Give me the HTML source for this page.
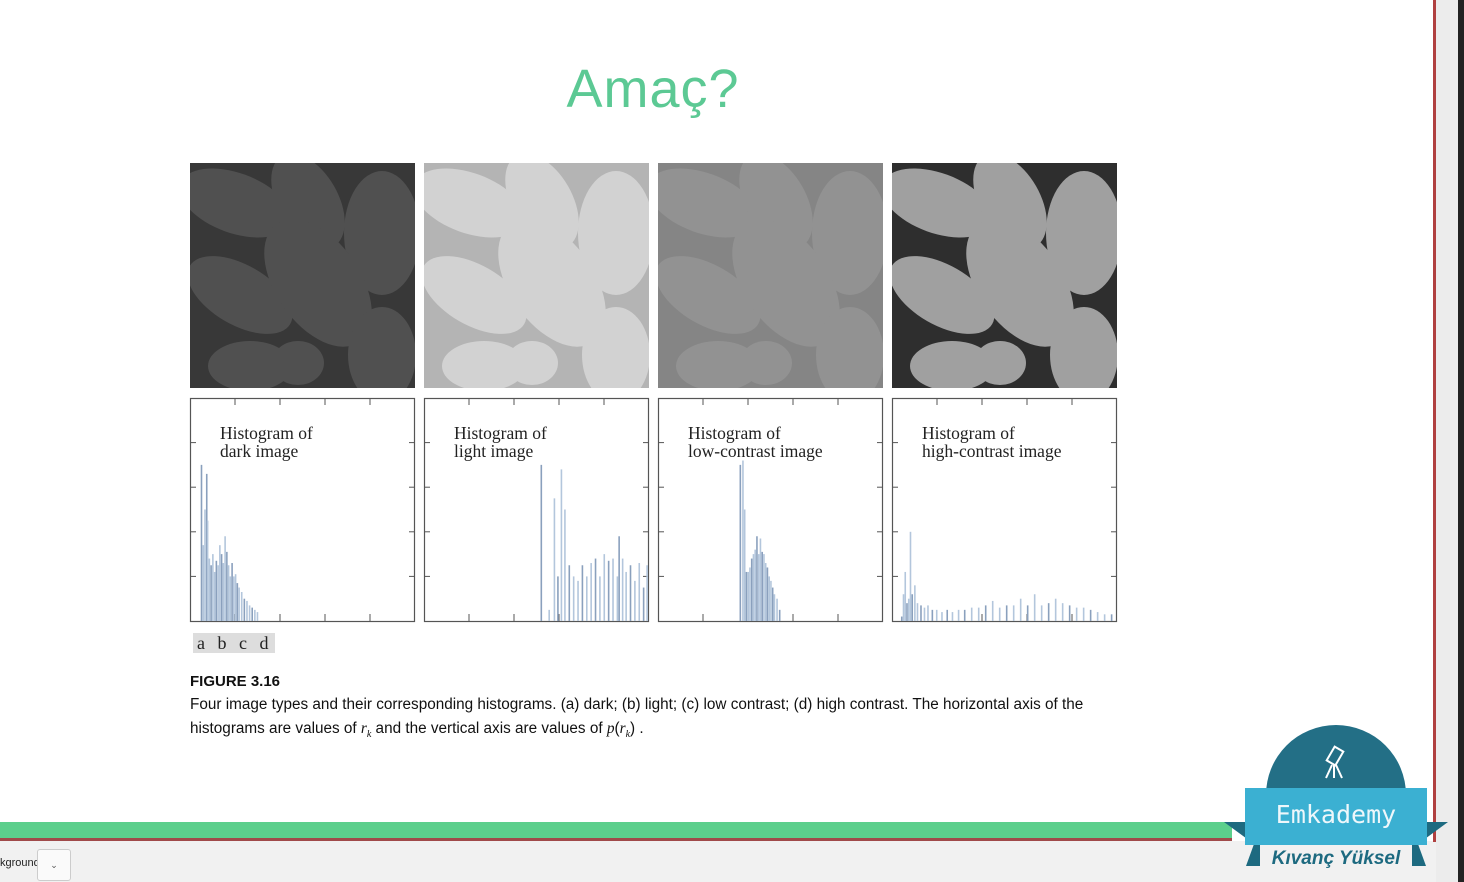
<!DOCTYPE html>
<html><head><meta charset="utf-8"><style>
html,body{margin:0;padding:0}
body{width:1464px;height:882px;position:relative;overflow:hidden;background:#fff;font-family:"Liberation Sans",sans-serif}
.abs{position:absolute}
</style></head><body>
<div class="abs" style="left:0;width:1306px;top:58px;text-align:center;font-size:54px;color:#5cc994;font-family:'Liberation Sans',sans-serif;letter-spacing:1px">Amaç?</div>

<svg class="abs" style="left:0;top:0" width="1464" height="882">
<defs>
<clipPath id="imgclip"><rect x="0" y="0" width="225" height="225"/></clipPath>
<g id="leaves">
<ellipse cx="45" cy="40" rx="58" ry="30" transform="rotate(20 45 40)"/>
<ellipse cx="118" cy="38" rx="30" ry="52" transform="rotate(-30 118 38)"/>
<ellipse cx="192" cy="70" rx="38" ry="62"/>
<ellipse cx="50" cy="132" rx="58" ry="30" transform="rotate(30 50 132)"/>
<ellipse cx="128" cy="120" rx="42" ry="72" transform="rotate(-35 128 120)"/>
<ellipse cx="60" cy="203" rx="42" ry="25"/>
<ellipse cx="108" cy="200" rx="26" ry="22"/>
<ellipse cx="192" cy="192" rx="34" ry="48"/>
</g>
</defs>
<g id="images"></g>
<g id="hists"></g>
</svg>

<div class="abs" style="left:193px;top:633px;width:82px;height:20px;background:#ddd;font-family:'Liberation Serif',serif;font-size:18px;line-height:21px;color:#222;padding-left:4px;letter-spacing:4px;box-sizing:border-box">a b c d</div>
<div class="abs" style="left:190px;top:673px;font-size:15px;font-weight:bold;color:#111">FIGURE 3.16</div>
<div class="abs" style="left:190px;top:693px;width:960px;font-size:15.3px;line-height:24px;color:#111">Four image types and their corresponding histograms. (a) dark; (b) light; (c) low contrast; (d) high contrast. The horizontal axis of the histograms are values of <i style="font-family:'Liberation Serif',serif">r<sub style="font-size:10px">k</sub></i> and the vertical axis are values of <i style="font-family:'Liberation Serif',serif">p</i>(<i style="font-family:'Liberation Serif',serif">r<sub style="font-size:10px">k</sub></i>) .</div>

<div class="abs" style="left:0;top:822px;width:1232px;height:16px;background:#5ccf8c;border-bottom:3px solid #a04a4a"></div>
<div class="abs" style="left:0;top:841px;width:1464px;height:41px;background:#f1f1f1"></div>
<div class="abs" style="left:0;top:857px;font-size:11px;color:#222">kground</div>
<div class="abs" style="left:37px;top:849px;width:32px;height:30px;background:#fafafa;border:1px solid #ccc;border-radius:3px;font-size:9px;text-align:center;line-height:30px;color:#555">⌄</div>
<div class="abs" style="left:1433px;top:0;width:3px;height:842px;background:#b04040"></div>
<div class="abs" style="left:1436px;top:0;width:22px;height:882px;background:#ececec"></div>
<div class="abs" style="left:1458px;top:0;width:6px;height:882px;background:#222"></div>

<svg class="abs" style="left:1220px;top:720px" width="232" height="162">
<path d="M46 75 A70 70 0 0 1 186 75 L186 100 L46 100Z" fill="#236f86"/>
<g stroke="#fff" stroke-width="2" fill="none"><rect x="110" y="28" width="10" height="16" transform="rotate(30 115 36)"/><path d="M112 45 L106 58 M114 45 L114 58 M116 45 L122 58"/></g>
<polygon points="4,102 40,102 40,146 26,146 34,124" fill="#1d6a80"/>
<polygon points="228,102 192,102 192,146 206,146 198,124" fill="#1d6a80"/>
<rect x="25" y="68" width="182" height="57" fill="#3bb0d2"/>
<text x="116" y="103" text-anchor="middle" font-family="'DejaVu Sans Mono',monospace" font-size="25" fill="#eef7fb">Emkademy</text>
<text x="116" y="144" text-anchor="middle" font-family="'Liberation Sans',sans-serif" font-style="italic" font-weight="bold" font-size="19" fill="#1d6a80">Kıvanç Yüksel</text>
</svg>

<script>
const panelX = [190, 424, 658, 892];
const imgBg = ['#383838', '#b4b4b4', '#858585', '#2e2e2e'];
const imgLeaf = ['#505050', '#d2d2d2', '#929292', '#a0a0a0'];
const histTitles = [['Histogram of','dark image'],['Histogram of','light image'],['Histogram of','low-contrast image'],['Histogram of','high-contrast image']];
const darkLevels = [12,14,16,18,19,21,23,25,27,29,31,33,35,37,39,41,43,45,47,49,51,53,55,58,61,64,67,70,73,76];
const darkCounts = [0.7,0.34,0.5,0.66,0.45,0.28,0.25,0.3,0.22,0.27,0.25,0.34,0.3,0.26,0.38,0.31,0.25,0.2,0.26,0.2,0.21,0.17,0.15,0.13,0.1,0.09,0.07,0.06,0.05,0.04];
const lightLevels = [133,142,148,152,156,160,165,170,175,180,185,190,195,200,205,210,215,220,222,226,230,235,240,245,250,254];
const lightCounts = [0.7,0.05,0.55,0.2,0.68,0.5,0.25,0.2,0.18,0.25,0.2,0.26,0.28,0.2,0.3,0.27,0.28,0.2,0.38,0.28,0.22,0.25,0.18,0.26,0.15,0.25];
const lowLevels = [93,96,98,100,102,104,106,108,110,112,114,116,118,120,122,124,126,128,130,132,135,138];
const lowCounts = [0.7,0.72,0.5,0.22,0.22,0.24,0.28,0.3,0.32,0.38,0.3,0.37,0.31,0.3,0.26,0.24,0.2,0.18,0.15,0.12,0.1,0.05];
const highLevels = [10,12,14,16,18,20,22,25,28,32,36,40,45,50,56,62,68,75,82,90,98,106,114,122,130,138,146,154,162,170,178,186,194,202,210,218,226,234,242,250];
const highCounts = [0.02,0.12,0.22,0.08,0.1,0.4,0.12,0.16,0.08,0.07,0.06,0.07,0.05,0.05,0.04,0.05,0.04,0.05,0.05,0.06,0.06,0.07,0.09,0.06,0.07,0.07,0.1,0.07,0.12,0.07,0.08,0.1,0.08,0.07,0.06,0.06,0.05,0.04,0.03,0.03];
const levelSets = [darkLevels, lightLevels, lowLevels, highLevels];
const countSets = [darkCounts, lightCounts, lowCounts, highCounts];
const NS = 'http://www.w3.org/2000/svg';
const imgG = document.getElementById('images');
const histG = document.getElementById('hists');
const W = 225, IMG_Y = 163, H_TOP = 398, H_BOT = 621;
const xScale = (p, v) => panelX[p] + 1 + v / 255 * (W - 2);
const yScale = c => H_BOT - c * (H_BOT - H_TOP);
function mk(tag, attrs){const e=document.createElementNS(NS,tag);for(const k in attrs)e.setAttribute(k,attrs[k]);return e;}
panelX.forEach((x, i) => {
  const g = mk('g', {transform:`translate(${x},${IMG_Y})`,'clip-path':'url(#imgclip)'});
  
  
  g.appendChild(mk('rect',{x:0,y:0,width:W,height:W,fill:imgBg[i]}));
  g.appendChild(mk('use',{href:'#leaves',fill:imgLeaf[i]}));
  imgG.appendChild(g);
  const hg = mk('g', {});
  
  
  hg.appendChild(mk('rect',{x:x+0.5,y:H_TOP+0.5,width:W-1,height:H_BOT-H_TOP,fill:'#fff',stroke:'#555','stroke-width':1.2}));
  for (let t=1;t<=4;t++){
    const tx = x + t*45;
    hg.appendChild(mk('line',{x1:tx,x2:tx,y1:H_TOP,y2:H_TOP+7,stroke:'#555'}));
    hg.appendChild(mk('line',{x1:tx,x2:tx,y1:H_BOT,y2:H_BOT-7,stroke:'#555'}));
    const ty = H_TOP + t*44.6;
    hg.appendChild(mk('line',{x1:x,x2:x+6,y1:ty,y2:ty,stroke:'#555'}));
    hg.appendChild(mk('line',{x1:x+W,x2:x+W-6,y1:ty,y2:ty,stroke:'#555'}));
  }
  levelSets[i].forEach((lv, j) => {
    const bx = xScale(i, lv), by = yScale(countSets[i][j]);
    const b = mk('line',{x1:bx,x2:bx,y1:H_BOT,y2:by,stroke: j%3===0?'#8aa0bd':'#b3c6dc','stroke-width':1.6});
    
    
    hg.appendChild(b);
  });
  histTitles[i].forEach((s, k) => {
    const t = mk('text',{x:x+30,y:H_TOP+41+k*18,'font-family':"'Liberation Serif',serif",'font-size':17.5,fill:'#222'});
    t.textContent = s;
    
    
    hg.appendChild(t);
  });
  histG.appendChild(hg);
});
</script>
</body></html>
